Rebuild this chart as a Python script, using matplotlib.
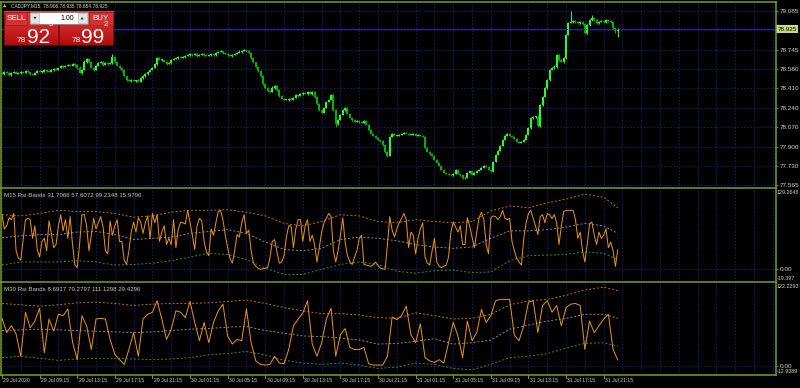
import numpy as np
import matplotlib
matplotlib.use("Agg")
import matplotlib.pyplot as plt
import matplotlib.transforms as mtrans
from matplotlib.patches import Rectangle, Polygon
from matplotlib.colors import LinearSegmentedColormap

# ---------------- data ----------------
symbol = "CADJPY,M15"
open_first = 78.545
closes = [
    78.536, 78.553, 78.545, 78.527, 78.545, 78.553, 78.536, 78.545, 78.553, 78.545,
    78.562, 78.553, 78.536, 78.527, 78.545, 78.562, 78.553, 78.553, 78.571, 78.562,
    78.553, 78.571, 78.579, 78.571, 78.588, 78.606, 78.597, 78.606, 78.614, 78.606,
    78.623, 78.614, 78.588, 78.545, 78.571, 78.640, 78.667, 78.640, 78.588, 78.571,
    78.606, 78.632, 78.640, 78.614, 78.632, 78.623, 78.632, 78.684, 78.640, 78.606,
    78.588, 78.571, 78.518, 78.483, 78.475, 78.483, 78.475, 78.483, 78.466, 78.501,
    78.518, 78.536, 78.553, 78.571, 78.588, 78.623, 78.675, 78.658, 78.658, 78.640,
    78.623, 78.632, 78.658, 78.667, 78.675, 78.684, 78.675, 78.684, 78.693, 78.701,
    78.710, 78.701, 78.710, 78.693, 78.701, 78.710, 78.701, 78.693, 78.701, 78.710,
    78.701, 78.719, 78.728, 78.736, 78.719, 78.710, 78.701, 78.693, 78.701, 78.710,
    78.719, 78.728, 78.736, 78.745, 78.736, 78.719, 78.675, 78.640, 78.597, 78.562,
    78.518, 78.449, 78.414, 78.388, 78.379, 78.414, 78.431, 78.396, 78.344, 78.318,
    78.309, 78.309, 78.318, 78.309, 78.327, 78.353, 78.344, 78.361, 78.370, 78.361,
    78.379, 78.361, 78.379, 78.335, 78.274, 78.222, 78.196, 78.239, 78.292, 78.309,
    78.353, 78.222, 78.100, 78.135, 78.178, 78.222, 78.239, 78.187, 78.152, 78.135,
    78.117, 78.126, 78.117, 78.109, 78.126, 78.091, 78.048, 78.013, 77.995, 77.978,
    77.960, 77.952, 77.917, 77.856, 77.821, 77.987, 78.013, 77.995, 77.995, 78.004,
    78.013, 78.021, 78.013, 78.004, 78.004, 78.013, 77.995, 78.004, 77.995, 77.987,
    77.891, 77.856, 77.838, 77.821, 77.786, 77.760, 77.734, 77.699, 77.673, 77.664,
    77.655, 77.647, 77.664, 77.699, 77.664, 77.647, 77.621, 77.629, 77.673, 77.682,
    77.655, 77.673, 77.690, 77.699, 77.716, 77.734, 77.725, 77.699, 77.682, 77.769,
    77.830, 77.865, 77.908, 77.960, 77.995, 78.013, 77.995, 77.987, 77.969, 77.943,
    77.934, 77.943, 77.960, 78.004, 78.065, 78.152, 78.161, 78.161, 78.082, 78.266,
    78.335, 78.414, 78.483, 78.571, 78.588, 78.597, 78.701, 78.658, 78.640, 78.675,
    78.876, 78.980, 78.989, 78.998, 78.989, 78.980, 78.989, 78.972, 78.893, 78.963,
    79.007, 79.024, 79.007, 78.980, 78.989, 78.998, 78.989, 79.007, 78.998, 78.989,
    78.937, 78.906, 78.925,
]
# upper / lower wick lengths in points (0.001)
up_pts = [
    6, 4, 8, 5, 3, 7, 4, 6, 5, 8,   4, 6, 3, 5, 9, 4, 6, 5, 3, 7,
    5, 8, 4, 6, 3, 9, 5, 4, 7, 5,   6, 4, 5, 12, 6, 18, 8, 5, 4, 6,
    5, 7, 9, 4, 6, 5, 8, 22, 6, 5,  4, 7, 5, 3, 6, 4, 5, 3, 8, 4,
    5, 4, 6, 5, 7, 9, 6, 4, 8, 5,   4, 6, 5, 3, 6, 4, 5, 7, 4, 6,
    5, 3, 6, 4, 5, 8, 4, 6, 3, 5,   6, 4, 7, 5, 3, 6, 4, 8, 5, 6,
    9, 12, 7, 5, 4, 6, 5, 4, 3, 5,  4, 6, 5, 8, 3, 12, 6, 4, 5, 3,
    6, 4, 5, 7, 4, 6, 5, 4, 8, 5,   6, 5, 4, 7, 5, 3, 8, 4, 6, 5,
    7, 6, 4, 8, 5, 6, 4, 5, 3, 6,   5, 4, 6, 3, 5, 7, 4, 5, 3, 6,
    4, 5, 3, 6, 9, 8, 5, 4, 6, 5,   4, 6, 5, 3, 7, 4, 5, 6, 4, 5,
    6, 4, 5, 3, 6, 4, 5, 4, 3, 6,   5, 4, 6, 7, 5, 3, 6, 4, 8, 5,
    6, 5, 4, 6, 5, 7, 4, 5, 6, 8,   6, 5, 7, 4, 6, 8, 5, 4, 6, 5,
    4, 6, 5, 7, 5, 6, 4, 8, 12, 9,  7, 6, 5, 8, 6, 12, 9, 6, 5, 8,
    10, 8, 95, 6, 5, 7, 12, 6, 8, 9, 7, 25, 6, 5, 8, 6, 5, 7, 4, 6,
    8, 5, 10,
]
dn_pts = [
    5, 7, 4, 6, 8, 5, 6, 4, 7, 5,   6, 4, 7, 5, 4, 6, 5, 8, 4, 6,
    5, 4, 7, 5, 6, 4, 8, 5, 4, 6,   5, 7, 6, 4, 8, 5, 6, 7, 5, 8,
    6, 4, 5, 7, 4, 6, 5, 6, 8, 5,   6, 7, 12, 14, 6, 8, 5, 7, 6, 5,
    7, 9, 12, 5, 6, 4, 7, 5, 6, 4,  6, 5, 7, 4, 5, 6, 4, 5, 6, 4,
    5, 6, 4, 7, 5, 4, 6, 5, 4, 6,   5, 6, 4, 5, 7, 4, 6, 5, 6, 4,
    5, 4, 6, 5, 7, 6, 8, 6, 7, 9,   8, 12, 7, 10, 6, 5, 7, 6, 8, 5,
    6, 5, 7, 4, 6, 5, 8, 4, 6, 5,   7, 5, 6, 8, 9, 7, 6, 5, 4, 6,
    5, 8, 25, 10, 6, 5, 7, 6, 5, 8, 6, 5, 7, 4, 6, 5, 8, 6, 7, 5,
    6, 8, 10, 12, 14, 6, 5, 7, 4, 6, 5, 4, 6, 5, 7, 6, 5, 4, 6, 5,
    7, 6, 8, 5, 6, 7, 6, 8, 6, 5,   7, 6, 5, 4, 6, 8, 9, 5, 6, 7,
    5, 6, 4, 7, 5, 6, 4, 7, 6, 5,   6, 4, 5, 6, 7, 5, 6, 4, 5, 7,
    6, 5, 4, 7, 6, 8, 12, 14, 10, 7, 8, 6, 9, 12, 6, 7, 8, 6, 5, 7,
    6, 5, 4, 7, 6, 5, 8, 6, 12, 7,  6, 5, 7, 6, 5, 4, 6, 5, 7, 6,
    8, 14, 52,
]
price_ticks = ["79.085", "78.915", "78.745", "78.580", "78.410", "78.240",
               "78.070", "77.900", "77.730", "77.565"]
bid_price = 78.925
time_labels = ["29 Jul 2020", "29 Jul 09:15", "29 Jul 13:15", "29 Jul 17:15",
               "29 Jul 21:15", "30 Jul 01:15", "30 Jul 05:15", "30 Jul 09:15",
               "30 Jul 13:15", "30 Jul 17:15", "30 Jul 21:15", "31 Jul 01:15",
               "31 Jul 05:15", "31 Jul 09:15", "31 Jul 13:15", "31 Jul 17:15",
               "31 Jul 21:15"]

rsi15 = [
    88, 65, 70, 83, 80, 90, 30, 18, 15, 48,   80, 82, 80, 50, 70, 32, 20, 45, 50, 30,
    78, 58, 35, 40, 70, 88, 62, 80, 50, 85,   40, 7, 3, 40, 88, 88, 70, 30, 55, 82,
    65, 75, 85, 68, 30, 25, 78, 55, 70, 80,   45, 45, 15, 8, 30, 60, 76, 60, 83, 76,
    58, 75, 86, 50, 90, 75, 88, 45, 60, 70,   40, 50, 40, 80, 35, 65, 76, 75, 73, 95,
    75, 55, 32, 70, 82, 78, 45, 28, 22, 65,   55, 75, 93, 95, 80, 55, 35, 18, 10, 30,
    56, 52, 75, 88, 58, 63, 30, 10, 5, 2,     0, 1, 2, 3, 18, 45, 48, 28, 10, 12,
    22, 52, 70, 70, 35, 65, 80, 80, 45, 70,   80, 45, 55, 40, 12, 35, 60, 75, 82, 90,
    85, 30, 12, 30, 55, 83, 44, 22, 12, 8,    20, 30, 50, 55, 8, 7, 6, 5, 8, 12,
    6, 2, 1, 0, 40, 85, 63, 52, 65, 75,       82, 90, 80, 35, 60, 55, 25, 50, 65, 75,
    20, 10, 7, 30, 50, 12, 5, 3, 5, 7,        20, 60, 76, 68, 60, 70, 40, 40, 83, 70,
    52, 35, 60, 83, 92, 80, 40, 25, 83, 86,   85, 80, 85, 95, 82, 80, 82, 45, 30, 18,
    12, 7, 50, 75, 90, 95, 82, 70, 56, 85,    88, 75, 90, 88, 82, 88, 75, 40, 70, 93,
    95, 95, 95, 95, 80, 50, 60, 30, 12, 40,   73, 76, 55, 40, 60, 50, 55, 65, 35, 44,
    30, 5, 31.7,
]
# M30 values, one per two M15 bars
rsi30 = [
    70, 49, 59, 47, 14, 79, 56, 66, 85, 19,   69, 51, 76, 74, 84, 35, 9, 74, 59, 24,
    69, 70, 69, 39, 17, 9, 2, 24, 49, 14,     69, 76, 79, 96, 69, 39, 54, 81, 79, 71,
    95, 64, 37, 64, 34, 64, 81, 91, 44, 32,   39, 37, 84, 34, 7, 2, 1, 2, 14, 4,
    3, 24, 59, 69, 78, 96, 32, 14, 34, 69,    85, 14, 46, 55, 27, 24, 24, 27, 3, 1,
    1, 1, 14, 72, 68, 74, 88, 46, 34, 62,     12, 7, 5, 9, 4, 34, 64, 44, 12, 66,
    37, 49, 83, 64, 74, 96, 98, 98, 98, 45,   37, 59, 94, 96, 49, 89, 96, 79, 89, 59,
    86, 91, 92, 89, 24, 66, 49, 59, 69, 76,   24, 8.7,
]
band_step = 8
up15 = [88, 86, 90, 95, 93, 93, 90, 84, 86, 92, 95, 95, 96, 92, 86, 74, 70, 77, 88, 86,
        77, 75, 80, 77, 75, 77, 94, 102, 99, 107, 113, 121, 116, 99]
mid15 = [51, 54, 56, 56, 60, 61, 56, 48, 50, 52, 58, 61, 64, 58, 44, 32, 30, 34, 48, 52,
         50, 46, 40, 36, 34, 36, 50, 62, 62, 64, 68, 74, 70, 58]
lo15 = [7, 12, 12, 12, 14, 12, 7, 8, 10, 14, 20, 26, 24, 16, 2, -8, -8, 0, 8, 12,
        8, -3, -6, -2, -1, -5, -4, 14, 22, 23, 24, 28, 26, 16]
up30 = [92, 90, 88, 90, 93, 94, 92, 89, 91, 92, 92, 93, 95, 97, 92, 86, 81, 77, 77, 75,
        71, 70, 78, 74, 69, 70, 76, 90, 96, 98, 104, 112, 116, 111]
mid30 = [52, 53, 54, 53, 52, 51, 50, 49, 50, 52, 54, 55, 57, 58, 52, 48, 44, 43, 41, 38,
         32, 33, 36, 40, 32, 34, 38, 54, 60, 66, 70, 76, 76, 70]
lo30 = [12, 14, 11, 8, 10, 11, 11, 10, 9, 10, 12, 16, 18, 21, 16, 8, 4, 2, 4, 1,
        -4, -2, 4, 2, -4, -6, 2, 12, 14, 18, 26, 33, 34, 29]
title15 = "M15 Rsi Bands 31.7066 57.6072 99.2348 15.9796"
title30 = "M30 Rsi Bands 8.6917 70.2797 111.1298 29.4296"
range15 = (-19.397, 129.2648)
range15_labels = ("-19.397", "129.2648")
range30 = (-12.9389, 122.2293)
range30_labels = ("-12.9389", "122.2293")
sell_price = ("78", "92", "5")
buy_price = ("78", "99", "2")
lot = "1.00"

# ---------------- style ----------------
FONTS = ["Liberation Sans Narrow", "Liberation Sans", "DejaVu Sans"]
plt.rcParams["font.family"] = FONTS
BG = "black"
GRID = "#1c1c8c"
OLIVE = "#7a9a2a"
TXT = "#d4d4b8"
LIME = "#22ff22"
DKGREEN = "#00b400"
RSI_C = "#e8921a"
UP_C = "#b8780c"
MID_C = "#8c8c8c"
LO_C = "#2a952a"
DASH = (0, (2, 2))

W, H = 800, 388
fig = plt.figure(figsize=(W / 100, H / 100), dpi=100, facecolor=BG)


def rect(x0, y0, x1, y1):
    return [x0 / W, 1 - y1 / H, (x1 - x0) / W, (y1 - y0) / H]


XMIN, XMAX = -0.85, 328.9
axp = fig.add_axes(rect(0, 3, 775, 187.5))
ax1 = fig.add_axes(rect(0, 189, 775, 281.5))
ax2 = fig.add_axes(rect(0, 283, 775, 374.5))


def base(ax, ylim):
    ax.set_facecolor(BG)
    ax.set_xlim(XMIN, XMAX)
    ax.set_ylim(*ylim)
    for s in ax.spines.values():
        s.set_visible(False)
    ax.set_axisbelow(True)
    ax.set_xticks(np.arange(0, XMAX, 8))
    ax.tick_params(axis="x", length=0, labelbottom=False)
    ax.grid(True, color=GRID, lw=0.6, ls=DASH)
    ax.yaxis.tick_right()
    ax.tick_params(axis="y", length=2, width=0.6, color=OLIVE, labelcolor=TXT,
                   labelsize=4.6, pad=1.5)


# ---- price panel ----
base(axp, (77.542, 79.155))
c = np.array(closes)
o = np.r_[open_first, c[:-1]]
hi = np.maximum(o, c) + np.array(up_pts) / 1000.0
lo = np.minimum(o, c) - np.array(dn_pts) / 1000.0
n = len(c)
bars = np.arange(n)
cols = np.where(c >= o, LIME, DKGREEN)
axp.vlines(bars, lo, hi, colors=cols, lw=0.75)
axp.bar(bars, np.maximum(np.abs(c - o), 0.006), bottom=np.minimum(o, c), width=0.85,
        color=cols, linewidth=0)
tick_vals = [float(s) for s in price_ticks]
axp.set_yticks(tick_vals)
axp.set_yticklabels(["" if abs(v - bid_price) < 0.02 else s
                     for v, s in zip(tick_vals, price_ticks)])
axp.axhline(bid_price, color="#2424b0", lw=0.7, zorder=1.8)
bt = mtrans.blended_transform_factory(axp.transAxes, axp.transData)
axp.text(1.003, bid_price, f"{bid_price:.3f}", transform=bt, ha="left", va="center",
         fontsize=4.6, color="black", zorder=6,
         bbox=dict(boxstyle="square,pad=0.25", fc="#c4dc7c", ec="none"))

# ---- indicator panels ----
band_bars = np.r_[np.arange(0, n - 1, band_step), n - 1]
for ax, rng, rlab, up, mid, low, title in [
        (ax1, range15, range15_labels, up15, mid15, lo15, title15),
        (ax2, range30, range30_labels, up30, mid30, lo30, title30)]:
    base(ax, rng)
    ax.set_yticks([0])
    ax.set_yticklabels(["0.00"])
    ax.plot(band_bars, up, color=UP_C, lw=0.7, ls=DASH)
    ax.plot(band_bars, mid, color=MID_C, lw=0.7, ls=DASH)
    ax.plot(band_bars, low, color=LO_C, lw=0.7, ls=DASH)
    ax.text(1.0025, 0.985, rlab[1], transform=ax.transAxes, ha="left", va="top",
            fontsize=3.9, color=TXT)
    ax.text(1.0025, 0.01, rlab[0], transform=ax.transAxes, ha="left", va="bottom",
            fontsize=3.9, color=TXT)
    ax.text(0.005, 0.955, title, transform=ax.transAxes, ha="left", va="top",
            fontsize=4.4, color="#c8ccb8")

ax1.plot(bars, rsi15, color=RSI_C, lw=0.72)
k = np.arange(len(rsi30))
ax2.plot(2 * k, rsi30, color=RSI_C, lw=0.72)

# time axis labels
btr = mtrans.blended_transform_factory(ax2.transData, ax2.transAxes)
for i, s in enumerate(time_labels):
    xb = i * 16
    ax2.plot([xb, xb], [0, -0.035], transform=btr, color=OLIVE, lw=0.7, clip_on=False)
    ax2.annotate(s, (xb, 0), xycoords=btr, xytext=(1.0, -2.6),
                 textcoords="offset points", ha="left", va="top",
                 fontsize=3.7, color=TXT, annotation_clip=False)

# ---------------- overlay: borders and trading panel ----------------
ov = fig.add_axes([0, 0, 1, 1], facecolor="none")
ov.set_zorder(10)
ov.set_autoscale_on(False)
ov.set_xlim(0, W)
ov.set_ylim(H, 0)
ov.axis("off")

seg = dict(color=OLIVE, lw=1.1, solid_capstyle="butt")
for yy in (1.7, 188.3, 282.3, 375.0):
    ov.plot([0, 776.5], [yy, yy], **seg)
for xx in (0.8, 775.8):
    ov.plot([xx, xx], [1.2, 375.5], **seg)

# header
ov.add_patch(Polygon([(3, 7.2), (6.4, 7.2), (4.7, 3.8)], closed=True, fc="#b0c870", ec="none"))
ov.text(11, 5.6, f"{symbol}  {o[-1]:.3f} {hi[-1]:.3f} {lo[-1]:.3f} {c[-1]:.3f}",
        fontsize=3.5, color="#d8d8d8", ha="left", va="center")

# red buttons with gradient
cmap = LinearSegmentedColormap.from_list("btn", ["#e43c3c", "#b20c0c"])
grad = np.linspace(0, 1, 32).reshape(-1, 1)
for x0, x1 in [(3.5, 58.3), (59.0, 113.3)]:
    ov.imshow(grad, extent=(x0, x1, 45.2, 11.6), cmap=cmap, aspect="auto",
              origin="upper", zorder=1)
    ov.add_patch(Rectangle((x0, 11.6), x1 - x0, 33.6, fill=False, ec="#6e0808",
                           lw=0.5, zorder=2))
for x0, w, lab in [(4.7, 22.6, "SELL"), (88.7, 23.8, "BUY")]:
    ov.add_patch(Rectangle((x0, 12.3), w, 12.3, fc="#d63030", ec="#8c1818", lw=0.4, zorder=3))
    ov.text(x0 + w / 2, 18.6, lab, fontsize=5.8, color="white", ha="center",
            va="center", zorder=4)
# lot box
ov.add_patch(Rectangle((29.5, 11.6), 58.0, 12.8, fc="white", ec="#7a7a7a", lw=0.5, zorder=3))
for x0 in (30.4, 77.6):
    ov.add_patch(Rectangle((x0, 12.6), 9.0, 10.8, fc="#e4e4e4", ec="#a8a8a8", lw=0.4, zorder=4))
ov.add_patch(Polygon([(33.4, 16.9), (36.6, 16.9), (35.0, 19.4)], closed=True,
                     fc="#303030", ec="none", zorder=5))
ov.add_patch(Polygon([(80.5, 19.4), (83.7, 19.4), (82.1, 16.9)], closed=True,
                     fc="#303030", ec="none", zorder=5))
ov.text(74.0, 18.4, lot, fontsize=5.0, color="black", ha="right", va="center", zorder=5)
# prices
for (big, mid_d, sup), xs in [(sell_price, (16.8, 26.5, 49.0)), (buy_price, (71.5, 81.0, 103.8))]:
    ov.text(xs[0], 42.0, big, fontsize=6.0, color="white", ha="left", va="baseline", zorder=4)
    ov.text(xs[1], 42.6, mid_d, fontsize=15.0, color="white", ha="left", va="baseline",
            zorder=4, family=["Liberation Sans", "DejaVu Sans"])
    ov.text(xs[2], 25.8, sup, fontsize=5.6, color="white", ha="left", va="baseline", zorder=4)

fig.savefig("out.png", dpi=100, facecolor=BG)
